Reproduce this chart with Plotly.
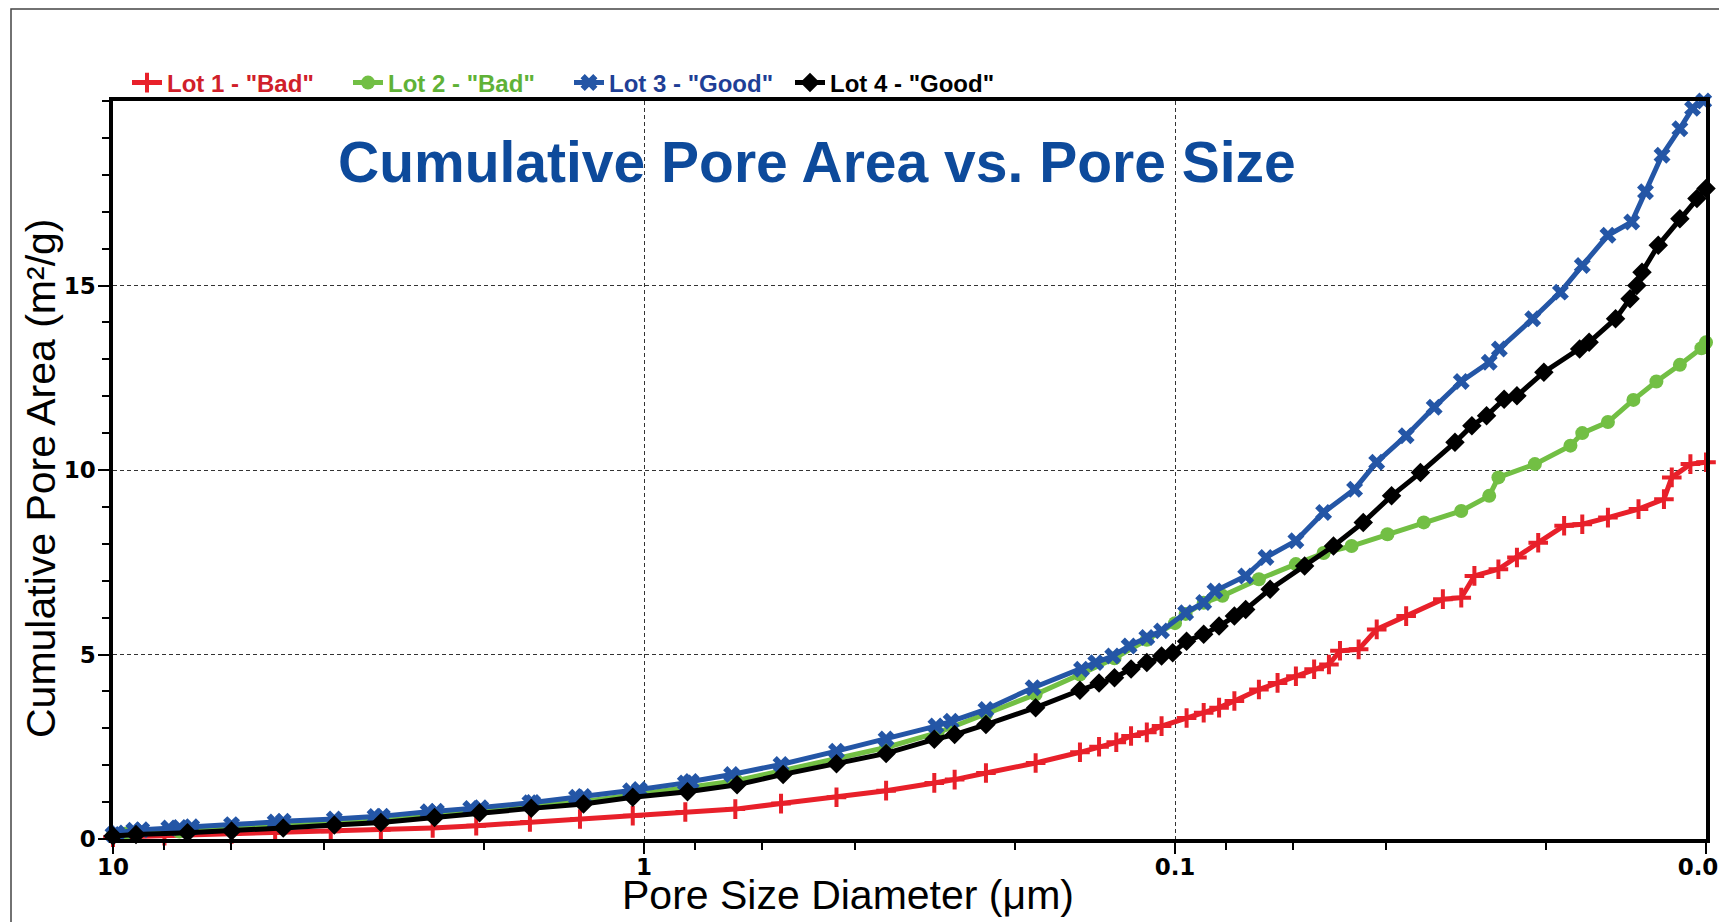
import plotly.graph_objects as go

# ---------------- data ----------------
series_names = ['Lot 1 - "Bad"', 'Lot 2 - "Bad"', 'Lot 3 - "Good"', 'Lot 4 - "Good"']

lot1_d = [10.0, 8.0, 5.98, 4.95, 3.89, 3.13, 2.50, 2.07, 1.64, 1.32,
          1.05, 0.836, 0.673, 0.552, 0.434, 0.350, 0.284, 0.260, 0.227, 0.183,
          0.151, 0.139, 0.129, 0.121, 0.113, 0.106, 0.0951, 0.0883, 0.0826, 0.0773,
          0.0695, 0.0641, 0.0592, 0.0547, 0.0513, 0.0489, 0.0451, 0.0417, 0.0367, 0.0313,
          0.0289, 0.0273, 0.0246, 0.0227, 0.0207, 0.0185, 0.0171, 0.0153, 0.0134, 0.0120,
          0.0116, 0.0107, 0.0100]
lot1_a = [0.05, 0.09, 0.14, 0.17, 0.21, 0.25, 0.30, 0.36, 0.46, 0.54,
          0.63, 0.73, 0.81, 0.96, 1.13, 1.31, 1.52, 1.61, 1.79, 2.06,
          2.35, 2.50, 2.62, 2.79, 2.89, 3.06, 3.28, 3.42, 3.56, 3.74,
          4.05, 4.23, 4.41, 4.60, 4.73, 5.10, 5.14, 5.68, 6.04, 6.50,
          6.54, 7.13, 7.31, 7.63, 8.03, 8.49, 8.53, 8.71, 8.94, 9.21,
          9.80, 10.16, 10.21]

lot2_d = [10.0, 9.5, 7.5, 6.0, 4.8, 3.85, 3.1, 2.5, 2.05, 1.63,
          1.30, 1.05, 0.83, 0.67, 0.55, 0.434, 0.35, 0.28, 0.227, 0.183,
          0.151, 0.130, 0.113, 0.100, 0.0955, 0.0883, 0.0814, 0.0695, 0.0592, 0.0525,
          0.0465, 0.0398, 0.0340, 0.0289, 0.0256, 0.0246, 0.0210, 0.0180, 0.0171, 0.0153,
          0.0137, 0.0124, 0.0112, 0.0102, 0.0100]
lot2_a = [0.10, 0.14, 0.20, 0.27, 0.33, 0.42, 0.50, 0.63, 0.75, 0.88,
          1.02, 1.19, 1.38, 1.58, 1.85, 2.18, 2.48, 2.88, 3.38, 3.92,
          4.46, 4.90, 5.40, 5.85, 6.10, 6.40, 6.59, 7.04, 7.45, 7.75,
          7.94, 8.26, 8.58, 8.89, 9.30, 9.80, 10.16, 10.66, 11.00, 11.30,
          11.90, 12.40, 12.85, 13.30, 13.46]

lot3_d = [10.0, 9.84, 9.14, 8.83, 7.85, 7.49, 7.11, 5.98, 4.95, 4.78,
          3.83, 3.21, 3.11, 2.55, 2.46, 2.12, 2.03, 1.64, 1.62, 1.34,
          1.30, 1.06, 1.02, 0.836, 0.815, 0.684, 0.552, 0.434, 0.350, 0.282,
          0.264, 0.227, 0.185, 0.150, 0.141, 0.131, 0.122, 0.113, 0.106, 0.0955,
          0.0883, 0.0841, 0.0736, 0.0674, 0.0592, 0.0525, 0.0459, 0.0417, 0.0367, 0.0325,
          0.0289, 0.0256, 0.0245, 0.0212, 0.0188, 0.0171, 0.0153, 0.0138, 0.0130, 0.0121,
          0.0112, 0.0106, 0.0101]
lot3_a = [0.12, 0.16, 0.24, 0.25, 0.30, 0.31, 0.33, 0.39, 0.46, 0.48,
          0.54, 0.61, 0.62, 0.74, 0.75, 0.83, 0.85, 0.98, 0.99, 1.13,
          1.15, 1.31, 1.34, 1.52, 1.56, 1.75, 2.02, 2.38, 2.71, 3.06,
          3.19, 3.51, 4.10, 4.60, 4.78, 4.96, 5.23, 5.46, 5.64, 6.13,
          6.41, 6.72, 7.13, 7.63, 8.08, 8.85, 9.48, 10.21, 10.93, 11.70,
          12.40, 12.92, 13.28, 14.10, 14.82, 15.54, 16.36, 16.72, 17.54, 18.53,
          19.25, 19.80, 20.0]

lot4_d = [10.0, 9.05, 7.24, 5.98, 4.78, 3.83, 3.13, 2.48, 2.04, 1.63,
          1.30, 1.05, 0.828, 0.668, 0.547, 0.434, 0.350, 0.284, 0.260, 0.227,
          0.183, 0.151, 0.139, 0.130, 0.121, 0.113, 0.106, 0.101, 0.0951, 0.0883,
          0.0826, 0.0773, 0.0736, 0.0662, 0.0570, 0.0503, 0.0442, 0.0391, 0.0345, 0.0297,
          0.0276, 0.0259, 0.0240, 0.0227, 0.0202, 0.0173, 0.0166, 0.0148, 0.0139, 0.0135,
          0.0132, 0.0123, 0.0112, 0.0104, 0.0100]
lot4_a = [0.08, 0.12, 0.17, 0.22, 0.30, 0.38, 0.45, 0.58, 0.71, 0.83,
          0.95, 1.13, 1.28, 1.47, 1.75, 2.04, 2.32, 2.70, 2.83, 3.10,
          3.56, 4.03, 4.23, 4.37, 4.61, 4.78, 4.96, 5.05, 5.36, 5.55,
          5.77, 6.04, 6.22, 6.77, 7.40, 7.94, 8.58, 9.30, 9.93, 10.75,
          11.20, 11.47, 11.92, 12.01, 12.65, 13.28, 13.46, 14.10, 14.64, 15.00,
          15.36, 16.09, 16.81, 17.36, 17.63]

x_tick_vals = [10, 1, 0.1, 0.01]
x_tick_text = ["10", "1", "0.1", "0.01"]
x_minor_vals = [8, 6, 4, 2, 0.8, 0.6, 0.4, 0.2, 0.08, 0.06, 0.04, 0.02]
y_tick_vals = [0, 5, 10, 15]

# ---------------- styling ----------------
FONT = "Liberation Sans, Arial, Helvetica, sans-serif"
TICKFONT = "DejaVu Sans, Verdana, sans-serif"
line_colors = ["#e8202a", "#72bf44", "#2456a6", "#000000"]
text_colors = ["#d0202a", "#5fb237", "#1f3f96", "#000000"]
symbols = ["cross-thin", "circle", "x", "diamond"]
sizes = [14, 14, 15, 15]

# the page body adds an 8px offset: work in page pixels, convert to figure pixels
OFF = 8
W, H = 1727 - OFF, 922 - OFF
# plot area in page pixels
PL, PR, PT, PB = 113, 1706, 101, 839
L, R, T, B = PL - OFF, W - (PR - OFF), PT - OFF, H - (PB - OFF)
PW, PH = W - L - R, H - T - B


def px(x):
    return (x - OFF - L) / PW


def py(y):
    return (H - B - (y - OFF)) / PH


fig = go.Figure()
data = [(lot1_d, lot1_a), (lot2_d, lot2_a), (lot3_d, lot3_a), (lot4_d, lot4_a)]
for i, (d, a) in enumerate(data):
    mk = dict(symbol=symbols[i], size=sizes[i], color=line_colors[i],
              line=dict(color=line_colors[i], width=4 if symbols[i] == "cross-thin" else 0))
    fig.add_trace(go.Scatter(
        x=d, y=a, mode="lines+markers",
        name=f'<b><span style="color:{text_colors[i]}">{series_names[i]}</span></b>',
        line=dict(color=line_colors[i], width=5),
        marker=mk, cliponaxis=False))

grid = dict(showgrid=True, gridcolor="#333333", gridwidth=1, griddash="4px,3px")
axis_common = dict(showline=True, linecolor="black", linewidth=3.5, mirror=True,
                   ticks="outside", ticklen=11, tickwidth=2, tickcolor="black",
                   zeroline=False,
                   tickfont=dict(family=TICKFONT, size=23, color="black", weight="bold"),
                   **grid)

fig.update_layout(
    width=W, height=H,
    margin=dict(l=L, r=R, t=T, b=B, autoexpand=False),
    paper_bgcolor="white", plot_bgcolor="white",
    font=dict(family=FONT, color="black"),
    showlegend=True,
    legend=dict(orientation="h", x=px(127), y=py(83), xanchor="left", yanchor="middle",
                font=dict(family=FONT, size=24), entrywidth=176, entrywidthmode="pixels",
                bgcolor="rgba(0,0,0,0)", borderwidth=0, tracegroupgap=0),
    xaxis=dict(type="log", range=[1, -2], tickmode="array", tickvals=x_tick_vals,
               ticktext=x_tick_text, ticklabelstandoff=-6, ticklabeloverflow="allow",
               minor=dict(tickmode="array", tickvals=x_minor_vals, ticks="outside",
                          ticklen=7, tickwidth=2, tickcolor="black", showgrid=False),
               **axis_common),
    yaxis=dict(range=[0, 20], tickmode="array", tickvals=y_tick_vals,
               ticklabelstandoff=-2,
               minor=dict(tick0=0, dtick=1, ticks="outside", ticklen=7, tickwidth=2,
                          tickcolor="black", showgrid=False),
               **axis_common),
    annotations=[
        dict(text="<b>Cumulative Pore Area vs. Pore Size</b>", x=px(817), y=py(162),
             xref="paper", yref="paper", xanchor="center", yanchor="middle",
             showarrow=False, font=dict(family=FONT, size=57, color="#0d4a9b")),
        dict(text="Pore Size Diameter (μm)", x=px(848), y=py(895),
             xref="paper", yref="paper", xanchor="center", yanchor="middle",
             showarrow=False, font=dict(family=FONT, size=41, color="black")),
        dict(text="Cumulative Pore Area (m²/g)", x=px(41), y=py(478), textangle=-90,
             xref="paper", yref="paper", xanchor="center", yanchor="middle",
             showarrow=False, font=dict(family=FONT, size=41, color="black")),
    ],
    shapes=[
        dict(type="rect", xref="paper", yref="paper",
             x0=px(11), x1=px(1760), y0=py(960), y1=py(9),
             line=dict(color="#444444", width=1.5), fillcolor="rgba(0,0,0,0)",
             layer="below"),
    ],
)

fig.write_html("out.html")
